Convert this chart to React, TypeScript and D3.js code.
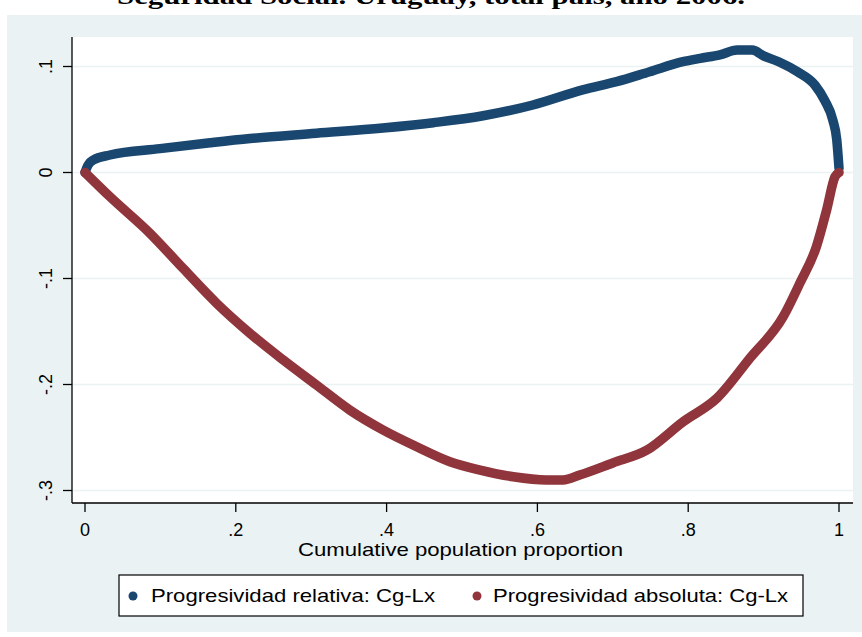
import React from "react";
import * as d3 from "d3";

const titleText = "Seguridad Social. Uruguay, total país, año 2006.";
const xTicks = [0, 0.2, 0.4, 0.6, 0.8, 1];
const xTickLabels = ["0", ".2", ".4", ".6", ".8", "1"];
const yTicks = [0.1, 0, -0.1, -0.2, -0.3];
const yTickLabels = [".1", "0", "-.1", "-.2", "-.3"];
const xTitle = "Cumulative population proportion";
const seriesNames = ["Progresividad relativa: Cg-Lx", "Progresividad absoluta: Cg-Lx"];

const relX = [0, 0.004, 0.011, 0.033, 0.0995, 0.166, 0.219, 0.307, 0.395, 0.462, 0.528, 0.594, 0.66, 0.705, 0.749, 0.793, 0.816, 0.842, 0.865, 0.885, 0.9, 0.92, 0.945, 0.968, 0.981, 0.992, 0.997, 1.0];
const relY = [0, 0.007, 0.0118, 0.0165, 0.0225, 0.028, 0.032, 0.037, 0.042, 0.047, 0.0535, 0.0637, 0.078, 0.0857, 0.0951, 0.1045, 0.1077, 0.111, 0.1155, 0.1155, 0.11, 0.1045, 0.095, 0.0825, 0.068, 0.049, 0.031, 0.004];

const absX = [0, 0.033, 0.0862, 0.13, 0.1746, 0.2188, 0.263, 0.307, 0.351, 0.3956, 0.44, 0.484, 0.524, 0.568, 0.612, 0.634, 0.656, 0.7, 0.745, 0.7935, 0.838, 0.882, 0.926, 0.948, 0.97, 0.9836, 0.9947, 1.0];
const absY = [0, -0.0228, -0.0574, -0.0904, -0.1234, -0.1517, -0.1769, -0.2005, -0.224, -0.243, -0.2587, -0.2728, -0.2807, -0.287, -0.29, -0.29, -0.2854, -0.274, -0.262, -0.235, -0.213, -0.175, -0.136, -0.1045, -0.07, -0.0354, -0.004, 0];

const W = 862;
const H = 637;
const BG = "#eaf2f3";
const BLUE = "#1a476f";
const RED = "#90353b";
const FONT = "'Liberation Sans', Arial, sans-serif";

export default function App() {
  const x = d3.scaleLinear().domain([0, 1]).range([85, 839]);
  const y = d3.scaleLinear().domain([0.1, -0.3]).range([66.5, 490.5]);
  const plot = { left: 72, top: 37, right: 853, bottom: 503 };

  const line = d3
    .line<[number, number]>()
    .x((d) => x(d[0]))
    .y((d) => y(d[1]))
    .curve(d3.curveMonotoneX);

  const rel: [number, number][] = relX.map((v, i) => [v, relY[i]]);
  const abs: [number, number][] = absX.map((v, i) => [v, absY[i]]);

  return (
    <svg
      width={W}
      height={H}
      style={{ position: "absolute", left: 0, top: 0, background: "#fff" }}
    >
      <rect x={0} y={0} width={W} height={H} fill="#fff" />
      <text
        x={431}
        y={4}
        textAnchor="middle"
        fontFamily="'Liberation Serif', 'Times New Roman', serif"
        fontWeight="bold"
        fontSize={24}
        textLength={628}
        lengthAdjust="spacingAndGlyphs"
      >
        {titleText}
      </text>
      <rect x={7} y={15} width={W - 7} height={617} fill={BG} />
      <rect
        x={plot.left}
        y={plot.top}
        width={plot.right - plot.left}
        height={plot.bottom - plot.top}
        fill="#fff"
      />
      {yTicks.map((t) => (
        <line
          key={"g" + t}
          x1={plot.left}
          x2={plot.right}
          y1={y(t)}
          y2={y(t)}
          stroke={BG}
          strokeWidth={1.5}
        />
      ))}
      <path d={line(rel) || ""} fill="none" stroke={BLUE} strokeWidth={9.5} strokeLinejoin="round" strokeLinecap="round" />
      <path d={line(abs) || ""} fill="none" stroke={RED} strokeWidth={9.5} strokeLinejoin="round" strokeLinecap="round" />
      <line x1={plot.left} x2={plot.left} y1={plot.top} y2={plot.bottom} stroke="#000" strokeWidth={1.3} />
      <line x1={plot.left} x2={plot.right} y1={plot.bottom} y2={plot.bottom} stroke="#000" strokeWidth={1.3} />
      {yTicks.map((t, i) => (
        <g key={"y" + t}>
          <line x1={plot.left - 9} x2={plot.left} y1={y(t)} y2={y(t)} stroke="#000" strokeWidth={1.3} />
          <text
            transform={`translate(52,${y(t)}) rotate(-90)`}
            textAnchor="middle"
            fontFamily={FONT}
            fontSize={18}
            fill="#000"
          >
            {yTickLabels[i]}
          </text>
        </g>
      ))}
      {xTicks.map((t, i) => (
        <g key={"x" + t}>
          <line x1={x(t)} x2={x(t)} y1={plot.bottom} y2={plot.bottom + 9} stroke="#000" strokeWidth={1.3} />
          <text x={x(t)} y={536} textAnchor="middle" fontFamily={FONT} fontSize={18} fill="#000">
            {xTickLabels[i]}
          </text>
        </g>
      ))}
      <text x={460.5} y={556} textAnchor="middle" fontFamily={FONT} fontSize={19} textLength={325} lengthAdjust="spacingAndGlyphs" fill="#000">
        {xTitle}
      </text>
      <rect x={119} y={575} width={684} height={41} fill="#fff" stroke="#000" strokeWidth={1.2} />
      <circle cx={133} cy={596} r={4.5} fill={BLUE} />
      <text x={151} y={602} fontFamily={FONT} fontSize={19} textLength={284} lengthAdjust="spacingAndGlyphs" fill="#000">
        {seriesNames[0]}
      </text>
      <circle cx={477} cy={596} r={4.5} fill={RED} />
      <text x={493} y={602} fontFamily={FONT} fontSize={19} textLength={295} lengthAdjust="spacingAndGlyphs" fill="#000">
        {seriesNames[1]}
      </text>
    </svg>
  );
}
